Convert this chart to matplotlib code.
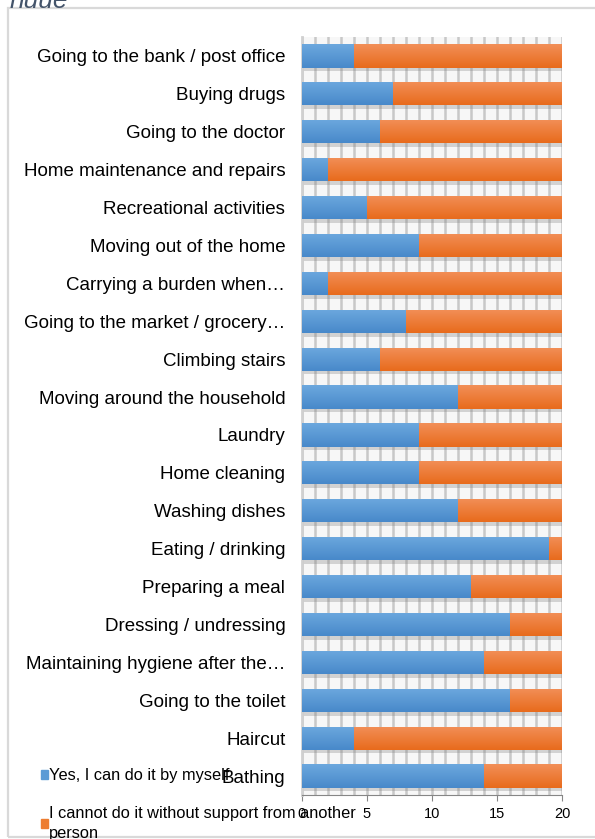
import matplotlib.pyplot as plt
from matplotlib.patches import Rectangle, Patch
from matplotlib.colors import LinearSegmentedColormap
import numpy as np

activities = [
    "Going to the bank / post office",
    "Buying drugs",
    "Going to the doctor",
    "Home maintenance and repairs",
    "Recreational activities",
    "Moving out of the home",
    "Carrying a burden when\u2026",
    "Going to the market / grocery\u2026",
    "Climbing stairs",
    "Moving around the household",
    "Laundry",
    "Home cleaning",
    "Washing dishes",
    "Eating / drinking",
    "Preparing a meal",
    "Dressing / undressing",
    "Maintaining hygiene after the\u2026",
    "Going to the toilet",
    "Haircut",
    "Bathing",
]
can_alone = [4, 7, 6, 2, 5, 9, 2, 8, 6, 12, 9, 9, 12, 19, 13, 16, 14, 16, 4, 14]
need_help = [16, 13, 14, 18, 15, 11, 18, 12, 14, 8, 11, 11, 8, 1, 7, 4, 6, 4, 16, 6]

blue = "#5b9bd5"
orange = "#ed7d31"
# light at the top edge, darker towards the bottom
blue_grad = LinearSegmentedColormap.from_list("b", ["#6ca8de", "#4889ca"])
orange_grad = LinearSegmentedColormap.from_list("o", ["#f28f58", "#e86b1c"])

plt.rcParams['font.family'] = ['Liberation Sans', 'DejaVu Sans']

fig = plt.figure(figsize=(5.95, 8.39), dpi=100)

# outer frame of the chart area
fig.patches.append(Rectangle((8 / 595, 2 / 839), 600 / 595, 829 / 839,
                             transform=fig.transFigure, fill=False,
                             edgecolor="#d9d9d9", linewidth=1.6, zorder=0))
fig.text(10 / 595, 1 - 8 / 839, "nuue", fontsize=19, style="italic",
         color="#44546a", va="baseline", ha="left")

ax = fig.add_axes([302 / 595, 44 / 839, 260 / 595, (795 - 37) / 839])

y = np.arange(len(activities))
h = 0.61

# soft shadow below the bars
ax.barh(y + 0.1, np.add(can_alone, need_help), height=h, left=0.1,
        color="#7f7f7f", alpha=0.3, zorder=2)
b1 = ax.barh(y, can_alone, height=h, color=blue, zorder=3)
b2 = ax.barh(y, need_help, left=can_alone, height=h, color=orange, zorder=3)

# vertical shading inside each bar
grad = np.linspace(0, 1, 64).reshape(-1, 1)
for bars, cmap in [(b1, blue_grad), (b2, orange_grad)]:
    for p in bars:
        x0, y0 = p.get_x(), p.get_y()
        im = ax.imshow(grad, cmap=cmap, aspect="auto", zorder=4, origin="lower",
                       extent=(x0, x0 + p.get_width(), y0, y0 + p.get_height()))
        im.set_clip_path(p)

ax.set_xlim(0, 20)
ax.set_ylim(len(activities) - 0.5, -0.5)
ax.set_yticks(y)
ax.set_yticklabels(activities, fontsize=13.5)
ax.tick_params(axis="y", length=0, pad=12)
ax.set_xticks([0, 5, 10, 15, 20])
ax.tick_params(axis="x", labelsize=10.5, length=4, color="#868686", pad=5)
ax.set_xticks(np.arange(0, 21, 1), minor=True)
ax.tick_params(axis="x", which="minor", length=0)
ax.grid(axis="x", which="both", color="#c8c8c8", linewidth=1.8, zorder=0)
ax.set_axisbelow(True)
ax.set_facecolor("#f7f7f7")
for s in ["top", "right"]:
    ax.spines[s].set_visible(False)
ax.spines["left"].set_color("#d0d0d0")
ax.spines["left"].set_linewidth(2)
ax.spines["bottom"].set_color("#868686")

handles = [Patch(color=blue), Patch(color=orange)]
leg = fig.legend(handles, ["Yes, I can do it by myself",
                           "I cannot do it without support from another\nperson"],
                 loc="upper left", bbox_to_anchor=(41 / 595, 1 - 768 / 839),
                 frameon=False, fontsize=11.75, handlelength=0.45, handleheight=0.45,
                 handletextpad=0.05, labelspacing=1.4, borderpad=0, borderaxespad=0)
for t in leg.get_texts():
    t.set_linespacing(1.4)

fig.savefig("out.png", dpi=100)
